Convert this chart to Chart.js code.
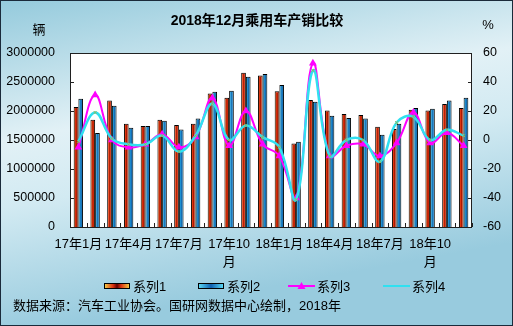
<!DOCTYPE html>
<html>
<head>
<meta charset="utf-8">
<script src="https://cdn.jsdelivr.net/npm/chart.js@4.4.1/dist/chart.umd.min.js"></script>
<style>
  html, body { margin: 0; padding: 0; background: #fff; }
  canvas { display: block; }
</style>
</head>
<body>
<canvas id="chart" width="513" height="326"></canvas>
<script>
// month labels, 17年1月 .. 18年12月
const months = [
  '17年1月', '17年2月', '17年3月', '17年4月', '17年5月', '17年6月',
  '17年7月', '17年8月', '17年9月', '17年10月', '17年11月', '17年12月',
  '18年1月', '18年2月', '18年3月', '18年4月', '18年5月', '18年6月',
  '18年7月', '18年8月', '18年9月', '18年10月', '18年11月', '18年12月'
];

// 辆
const series1 = [2070000, 1850000, 2180000, 1780000, 1740000, 1850000, 1760000, 1780000,
  2300000, 2230000, 2660000, 2610000, 2340000, 1440000, 2190000, 2010000,
  1950000, 1930000, 1730000, 1690000, 2020000, 2010000, 2120000, 2050000];
const series2 = [2210000, 1620000, 2090000, 1710000, 1740000, 1830000, 1680000, 1870000,
  2330000, 2350000, 2590000, 2640000, 2450000, 1470000, 2160000, 1920000,
  1880000, 1870000, 1590000, 1780000, 2050000, 2040000, 2180000, 2230000];

// %
const series3 = [-5, 31, 0, -5, -3, 4, -5, 2, 29, -4, 20, -3,
  -11, -40, 53, -11, -4, -3, -11, -2, 19, -2, 5, -4];
const series4 = [-1, 19, 1, -3, -3, 3, -8, 3, 25, 0, 10, 2,
  -5, -41, 48, -11, 0, 0, -15, 12, 16, 0, 7, 3];

const leftTicks = [0, 500000, 1000000, 1500000, 2000000, 2500000, 3000000];
const rightTicks = [-60, -40, -20, 0, 20, 40, 60];

const FONT = '"Liberation Sans", Arial, "Noto Sans CJK SC", sans-serif';
const CAT_PCT = 0.56;

const redStops = [[0, '#f6a028'], [0.3, '#e63a10'], [0.55, '#b01800'], [0.8, '#e63a10'], [1, '#f08a20']];
const blueStops = [[0, '#50ccf2'], [0.35, '#1e90d0'], [0.6, '#1468b0'], [1, '#40b8e8']];

function hGrad(c, x0, x1, stops) {
  const g = c.createLinearGradient(x0, 0, x1, 0);
  stops.forEach(s => g.addColorStop(s[0], s[1]));
  return g;
}

// horizontal gradient across each bar, positioned from the category scale
function barFill(stops, side) {
  return ctx => {
    const xs = ctx.chart.scales.x;
    if (ctx.type !== 'data' || !xs) return stops[1][1];
    const cw = xs.width / months.length;
    const bw = cw * CAT_PCT / 2;
    const c = xs.getPixelForValue(ctx.dataIndex);
    const x0 = side === 0 ? c - bw : c;
    if (!isFinite(x0) || !isFinite(bw) || bw <= 0) return stops[1][1];
    return hGrad(ctx.chart.ctx, x0, x0 + bw, stops);
  };
}

const frame = {
  id: 'frame',
  beforeDraw(chart) {
    const c = chart.ctx;
    const W = chart.width, H = chart.height;
    const a = chart.chartArea;
    c.save();
    const bg = c.createLinearGradient(0, 0, 60, H);
    bg.addColorStop(0, '#94cadc');
    bg.addColorStop(0.42, '#e2f1f6');
    bg.addColorStop(0.62, '#d2eaf2');
    bg.addColorStop(1, '#98cbde');
    c.fillStyle = bg;
    c.fillRect(0, 0, W, H);
    c.strokeStyle = '#1a2a3a';
    c.lineWidth = 1;
    c.strokeRect(0.5, 0.5, W - 1, H - 1);
    c.fillStyle = '#ffffff';
    c.fillRect(a.left, a.top, a.right - a.left, a.bottom - a.top);
    c.restore();
  },
  afterDatasetsDraw(chart) {
    const c = chart.ctx;
    const a = chart.chartArea;
    const ys = chart.scales.y, y1 = chart.scales.y1, xs = chart.scales.x;
    c.save();
    c.strokeStyle = '#202020';
    c.lineWidth = 1;
    c.strokeRect(Math.round(a.left) + 0.5, Math.round(a.top) + 0.5,
      Math.round(a.right - a.left) - 1, Math.round(a.bottom - a.top));
    c.beginPath();
    leftTicks.forEach(v => {
      const y = Math.round(ys.getPixelForValue(v)) + 0.5;
      c.moveTo(a.left, y); c.lineTo(a.left + 4, y);
    });
    rightTicks.forEach(v => {
      const y = Math.round(y1.getPixelForValue(v)) + 0.5;
      c.moveTo(a.right, y); c.lineTo(a.right - 4, y);
    });
    const half = (xs.getPixelForValue(1) - xs.getPixelForValue(0)) / 2;
    for (let i = 0; i <= months.length; i++) {
      const x = Math.round(xs.getPixelForValue(i) - half) + 0.5;
      c.moveTo(x, a.bottom); c.lineTo(x, a.bottom - 4);
    }
    c.stroke();
    c.restore();
  },
  afterDraw(chart) {
    const c = chart.ctx;
    c.save();
    c.fillStyle = '#000';
    c.textBaseline = 'middle';
    c.textAlign = 'center';
    c.font = 'bold 14px ' + FONT;
    c.fillText('2018年12月乘用车产销比较', 257, 21);
    c.font = '13px ' + FONT;
    c.fillText('辆', 39, 30);
    c.fillText('%', 488, 25);

    // legend
    const ly = 286;
    const sets = chart.data.datasets;
    const items = [
      { x: 104, text: sets[0].label, kind: 'bar',
        stops: [[0, '#f8d848'], [0.35, '#d83010'], [0.5, '#600000'], [0.65, '#d83010'], [1, '#f8d848']] },
      { x: 198, text: sets[1].label, kind: 'bar',
        stops: [[0, '#60e0f8'], [0.5, '#1060b0'], [1, '#60e0f8']] },
      { x: 288, text: sets[2].label, kind: 'tri', color: sets[2].borderColor },
      { x: 383, text: sets[3].label, kind: 'line', color: sets[3].borderColor }
    ];
    c.textAlign = 'left';
    c.font = '13px ' + FONT;
    items.forEach(it => {
      if (it.kind === 'bar') {
        c.fillStyle = hGrad(c, it.x, it.x + 26, it.stops);
        c.fillRect(it.x, ly - 3, 26, 6);
        c.strokeStyle = '#000';
        c.lineWidth = 1;
        c.strokeRect(it.x + 0.5, ly - 2.5, 25, 5);
      } else {
        c.strokeStyle = it.color;
        c.lineWidth = 2;
        c.beginPath();
        c.moveTo(it.x, ly); c.lineTo(it.x + 27, ly);
        c.stroke();
        if (it.kind === 'tri') {
          c.fillStyle = it.color;
          c.beginPath();
          c.moveTo(it.x + 13.5, ly - 4);
          c.lineTo(it.x + 17.5, ly + 3);
          c.lineTo(it.x + 9.5, ly + 3);
          c.closePath();
          c.fill();
        }
      }
      c.fillStyle = '#000';
      c.fillText(it.text, it.x + 29, ly + 1);
    });

    c.fillText('数据来源：汽车工业协会。国研网数据中心绘制，2018年', 13, 306);
    c.restore();
  }
};

new Chart(document.getElementById('chart'), {
  type: 'bar',
  data: {
    labels: months,
    datasets: [
      {
        label: '系列1', data: series1, yAxisID: 'y', order: 2,
        backgroundColor: barFill(redStops, 0), borderColor: '#000', borderWidth: 1,
        categoryPercentage: CAT_PCT, barPercentage: 1
      },
      {
        label: '系列2', data: series2, yAxisID: 'y', order: 3,
        backgroundColor: barFill(blueStops, 1), borderColor: '#000', borderWidth: 1,
        categoryPercentage: CAT_PCT, barPercentage: 1
      },
      {
        type: 'line', label: '系列3', data: series3, yAxisID: 'y1', order: 1,
        borderColor: '#ff00ff', backgroundColor: '#ff00ff', borderWidth: 2,
        tension: 0.4, pointStyle: 'triangle', pointRadius: 4.5, pointBorderWidth: 0
      },
      {
        type: 'line', label: '系列4', data: series4, yAxisID: 'y1', order: 0,
        borderColor: '#30e0f0', backgroundColor: '#9ab850', borderWidth: 2.5,
        tension: 0.4, pointStyle: 'crossRot', pointRadius: 2, pointBorderColor: '#9ab850', pointBorderWidth: 1
      }
    ]
  },
  options: {
    responsive: false,
    animation: false,
    events: [],
    layout: { padding: { top: 53, left: 0, right: 0, bottom: 0 } },
    plugins: { legend: { display: false }, tooltip: { enabled: false }, title: { display: false } },
    scales: {
      x: {
        grid: { display: false, drawTicks: false },
        border: { display: false },
        afterFit: s => { s.height = 99; },
        ticks: {
          autoSkip: false, maxRotation: 0, minRotation: 0, padding: 9, color: '#000',
          font: { family: FONT, size: 13, lineHeight: 1.35 },
          callback(v, i) {
            if (i % 3 !== 0) return '';
            const t = months[i];
            return t.length > 5 ? [t.slice(0, -1), t.slice(-1)] : t;
          }
        }
      },
      y: {
        position: 'left', min: 0, max: 3000000,
        grid: { display: false, drawTicks: false }, border: { display: false },
        afterFit: s => { s.width = 70; },
        afterBuildTicks: s => { s.ticks = leftTicks.map(v => ({ value: v })); },
        ticks: { padding: 15, color: '#000', font: { family: FONT, size: 12.5 }, callback: v => String(v) }
      },
      y1: {
        position: 'right', min: -60, max: 60,
        grid: { display: false, drawTicks: false }, border: { display: false },
        afterFit: s => { s.width = 41; },
        afterBuildTicks: s => { s.ticks = rightTicks.map(v => ({ value: v })); },
        ticks: { padding: 11, color: '#000', font: { family: FONT, size: 12.5 }, callback: v => String(v) }
      }
    }
  },
  plugins: [frame]
});
</script>
</body>
</html>
